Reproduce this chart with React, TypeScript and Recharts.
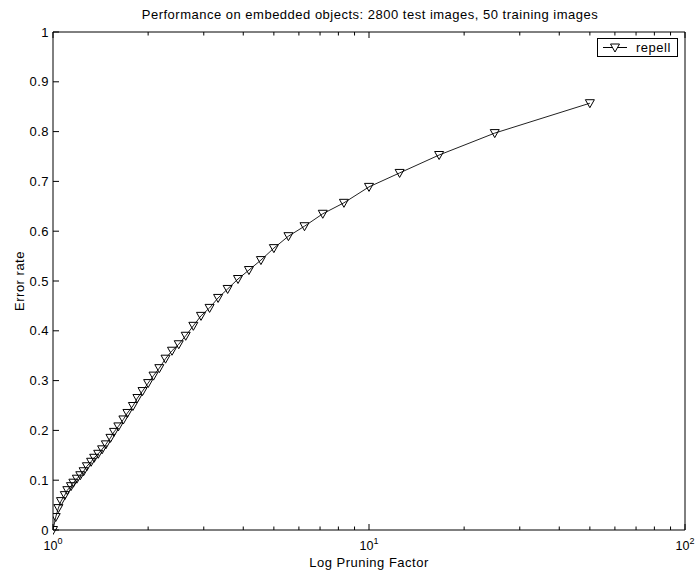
import { LineChart, Line, XAxis, YAxis, Legend, Customized } from 'recharts';

// pruning factor = 50 / images kept, read left to right from the right end
const pruningFactor = [
    50, 25, 16.67, 12.5, 10, 8.33, 7.14, 6.25, 5.56, 5,
    4.55, 4.17, 3.85, 3.57, 3.33, 3.13, 2.94, 2.78, 2.63, 2.5,
    2.38, 2.27, 2.17, 2.08, 2, 1.92, 1.85, 1.79, 1.72, 1.67,
    1.61, 1.56, 1.52, 1.47, 1.43, 1.39, 1.35, 1.32, 1.28, 1.25,
    1.22, 1.19, 1.16, 1.14, 1.11, 1.09, 1.06, 1.04, 1.02, 1,
];
const errorRate = [
    0.857, 0.797, 0.753, 0.717, 0.689, 0.657, 0.635, 0.61, 0.59, 0.566,
    0.542, 0.522, 0.504, 0.484, 0.466, 0.446, 0.43, 0.41, 0.39, 0.373,
    0.36, 0.344, 0.325, 0.31, 0.295, 0.279, 0.265, 0.249, 0.235, 0.222,
    0.208, 0.197, 0.185, 0.172, 0.162, 0.153, 0.145, 0.137, 0.128, 0.118,
    0.11, 0.103, 0.095, 0.088, 0.08, 0.07, 0.058, 0.044, 0.026, 0,
];
const xTicks = [1, 2, 3, 4, 5, 6, 7, 8, 9, 10, 20, 30, 40, 50, 60, 70, 80, 90, 100];
const xMajor = [1, 10, 100];
const yTicks = [0, 0.1, 0.2, 0.3, 0.4, 0.5, 0.6, 0.7, 0.8, 0.9, 1];
const yLabels = ['0', '0.1', '0.2', '0.3', '0.4', '0.5', '0.6', '0.7', '0.8', '0.9', '1'];

const data = pruningFactor.map((x, i) => ({ x, y: errorRate[i] }));

const FONT = '"Liberation Sans", Arial, sans-serif';
const MAJOR = 6;
const MINOR = 3.5;

function BottomTick(props: any) {
    const { x, y, payload } = props;
    const v = payload.value;
    const major = xMajor.includes(v);
    return (
        <g>
            <line x1={x} x2={x} y1={y} y2={y - (major ? MAJOR : MINOR)} stroke="#000" />
            {major && (
                <text x={x} y={y + 20} textAnchor="middle" fontFamily={FONT} fontSize={12.5} fill="#000">
                    10<tspan dy={-6} fontSize={9}>{Math.round(Math.log10(v))}</tspan>
                </text>
            )}
        </g>
    );
}

function TopTick(props: any) {
    const { x, y, payload } = props;
    const major = xMajor.includes(payload.value);
    return <line x1={x} x2={x} y1={y} y2={y + (major ? MAJOR : MINOR)} stroke="#000" />;
}

function LeftTick(props: any) {
    const { x, y, payload } = props;
    const idx = yTicks.indexOf(payload.value);
    return (
        <g>
            <line x1={x} x2={x + MAJOR} y1={y} y2={y} stroke="#000" />
            <text x={x - 4} y={y + 4.5} textAnchor="end" fontFamily={FONT} fontSize={13} letterSpacing={0.5} fill="#000">
                {yLabels[idx]}
            </text>
        </g>
    );
}

function RightTick(props: any) {
    const { x, y } = props;
    return <line x1={x} x2={x - MAJOR} y1={y} y2={y} stroke="#000" />;
}

function Triangle(props: any) {
    const { cx, cy } = props;
    if (cx == null || cy == null) return <g key={props.index} />;
    return (
        <path
            key={props.index}
            d={`M${cx - 4.5},${cy - 3.5}L${cx + 4.5},${cy - 3.5}L${cx},${cy + 4.5}Z`}
            fill="none"
            stroke="#000"
            strokeWidth={1}
        />
    );
}

function Texts() {
    return (
        <g fontFamily={FONT} fontSize={13} fill="#000" letterSpacing={0.5}>
            <text x={370} y={19} textAnchor="middle">
                Performance on embedded objects: 2800 test images, 50 training images
            </text>
            <text x={369} y={567} textAnchor="middle">Log Pruning Factor</text>
            <text x={24} y={281} textAnchor="middle" transform="rotate(-90 24 281)">Error rate</text>
        </g>
    );
}

function LegendBox() {
    return (
        <div style={{
            width: 79, height: 17, border: '1px solid #000', background: '#fff',
            display: 'flex', alignItems: 'center', fontFamily: FONT, fontSize: 13, letterSpacing: 0.5,
        }}>
            <svg width={34} height={17}>
                <line x1={5} x2={29} y1={8.5} y2={8.5} stroke="#000" />
                <path d="M12.5,5L21.5,5L17,13Z" fill="#fff" stroke="#000" />
            </svg>
            <span style={{ marginLeft: 4 }}>repell</span>
        </div>
    );
}

export default function App() {
    return (
        <div style={{ position: 'absolute', left: 0, top: 0, width: 696, height: 573, background: '#fff' }}>
            <LineChart width={696} height={573} data={data} margin={{ top: 31, right: 10, bottom: 13, left: 13 }}>
                <XAxis
                    dataKey="x" type="number" scale="log" domain={[1, 100]} ticks={xTicks} interval={0}
                    height={30} tickSize={0} tickMargin={0} tickLine={false} tick={<BottomTick />}
                    axisLine={{ stroke: '#000' }} allowDataOverflow
                />
                <XAxis
                    xAxisId="top" orientation="top" dataKey="x" type="number" scale="log" domain={[1, 100]}
                    ticks={xTicks} interval={0} height={1} tickSize={0} tickMargin={0} tickLine={false}
                    tick={<TopTick />} axisLine={{ stroke: '#000' }} allowDataOverflow
                />
                <YAxis
                    type="number" domain={[0, 1]} ticks={yTicks} interval={0} width={40}
                    tickSize={0} tickMargin={0} tickLine={false} tick={<LeftTick />} axisLine={{ stroke: '#000' }}
                />
                <YAxis
                    yAxisId="right" orientation="right" type="number" domain={[0, 1]} ticks={yTicks} interval={0}
                    width={1} tickSize={0} tickMargin={0} tickLine={false} tick={<RightTick />} axisLine={{ stroke: '#000' }}
                />
                <Legend
                    verticalAlign="middle" align="center" layout="horizontal"
                    wrapperStyle={{ top: 38, left: 597, width: 81, height: 19 }}
                    content={() => <LegendBox />}
                />
                <Line
                    dataKey="y" name="repell" type="linear" stroke="#222" strokeWidth={1}
                    dot={(p: any) => <Triangle key={p.index} {...p} />} activeDot={false}
                    isAnimationActive={false}
                />
                <Customized component={<Texts />} />
            </LineChart>
        </div>
    );
}
